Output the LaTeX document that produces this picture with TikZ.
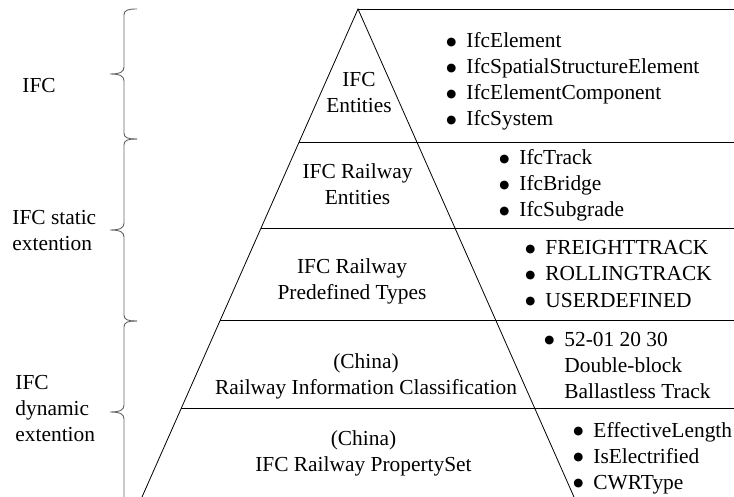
\documentclass[tikz,border=0pt]{standalone}
\usepackage{fontspec}
\setmainfont{Liberation Serif}
\newfontfamily\dotfont{DejaVu Sans}
\tikzset{layer/.style={anchor=base, inner sep=0pt},
items/.style={anchor=base west, inner sep=0pt},
side/.style={anchor=base west, inner sep=0pt},
grp/.style={draw=black!60, line width=0.9pt}}
\newcommand{\rows}[1]{\begin{tabular}[t]{@{}c@{}}#1\end{tabular}}
\newcommand{\lrows}[1]{\begin{tabular}[t]{@{}l@{}}#1\end{tabular}}
\newcommand{\blist}[1]{\begin{tabular}[t]{@{}l@{\hspace{10pt}}l@{}}#1\end{tabular}}
\newcommand{\bul}{\raisebox{2.5pt}{\dotfont\fontsize{11.5}{14}\selectfont ●}}

\begin{document}
\begin{tikzpicture}[x=1pt, y=-1pt, font=\fontsize{21.4}{26}\selectfont, line width=0.8pt]
\useasboundingbox (0,0) rectangle (734,497);
% pyramid
\coordinate (apex) at (358,9);
\coordinate (bl) at (142,497);
\coordinate (br) at (574,497);
\coordinate (rim) at (734,0);
\draw (bl) -- (apex) -- (br);
\draw (apex) -- (apex -| rim);
\path (apex) -- (bl)
	coordinate[pos=0.2725] (s1)
	coordinate[pos=0.4488] (s2)
	coordinate[pos=0.6373] (s3)
	coordinate[pos=0.8176] (s4);
\foreach \s in {s1,s2,s3,s4}
	\draw (\s) -- (\s -| rim);

% layers
\node[layer] (ent) at (359,87) {\rows{IFC\\Entities}};
\node[layer] (railent) at (357.5,179) {\rows{IFC Railway\\Entities}};
\node[layer] (railtype) at (352,273) {\rows{IFC Railway\\Predefined Types}};
\node[layer] (classif) at (366,368) {\rows{(China)\\Railway Information Classification}};
\node[layer] (pset) at (363.5,445) {\rows{(China)\\IFC Railway PropertySet}};

% lists
\node[items] (entlist) at (446,48) {\blist{\bul & IfcElement\\
	\bul & IfcSpatialStructureElement\\
	\bul & IfcElementComponent\\
	\bul & IfcSystem}};
\node[items] (raillist) at (499,165) {\blist{\bul & IfcTrack\\
	\bul & IfcBridge\\
	\bul & IfcSubgrade}};
\node[items] (typelist) at (525,255) {\blist{\bul & FREIGHTTRACK\\
	\bul & ROLLINGTRACK\\
	\bul & USERDEFINED}};
\node[items] (classlist) at (544,346) {\blist{\bul & 52-01 20 30\\
	& Double-block\\
	& Ballastless Track}};
\node[items] (psetlist) at (573,437) {\blist{\bul & EffectiveLength\\
	\bul & IsElectrified\\
	\bul & CWRType}};

% groups
\foreach \t/\b [evaluate=\t as \m using (\t+\b)/2] in {9/139, 139/321, 321/503}
	\draw[grp] (137,\t) .. controls (128,\t) and (124,\t+1) .. (124,\t+6)
		-- (124,\m-7) .. controls (124,\m-2) and (120,\m) .. (110,\m)
		.. controls (120,\m) and (124,\m+2) .. (124,\m+7)
		-- (124,\b-6) .. controls (124,\b-1) and (128,\b) .. (137,\b);
\node[side] (ifc) at (22,93) {IFC};
\node[side] (static) at (12,225) {\lrows{IFC static\\extention}};
\node[side] (dynamic) at (15,389) {\lrows{IFC\\dynamic\\extention}};
\end{tikzpicture}
\end{document}
